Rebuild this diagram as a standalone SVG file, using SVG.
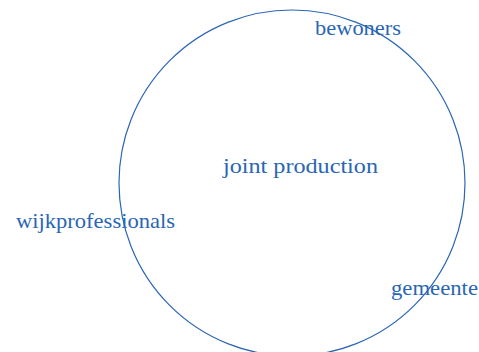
<svg xmlns="http://www.w3.org/2000/svg" width="479" height="352" viewBox="0 0 479 352">
<style>
text{font-family:"Liberation Serif","DejaVu Serif",serif;font-size:21px;fill:#2a66b4}
.c{fill:none;stroke:#2a66b4;stroke-width:1.2}
</style>
<rect width="479" height="352" fill="#fff"/>
<g id="connectors"></g>
<g id="circle"><circle class="c" cx="292" cy="183" r="173"/></g>
<g id="bewoners"><text x="315" y="35" textLength="86" lengthAdjust="spacingAndGlyphs">bewoners</text></g>
<g id="joint"><text x="223" y="173" textLength="155" lengthAdjust="spacingAndGlyphs">joint production</text></g>
<g id="wijkprofessionals"><text x="16" y="228" textLength="159" lengthAdjust="spacingAndGlyphs">wijkprofessionals</text></g>
<g id="gemeente"><text x="391" y="295" textLength="87" lengthAdjust="spacingAndGlyphs">gemeente</text></g>
</svg>
